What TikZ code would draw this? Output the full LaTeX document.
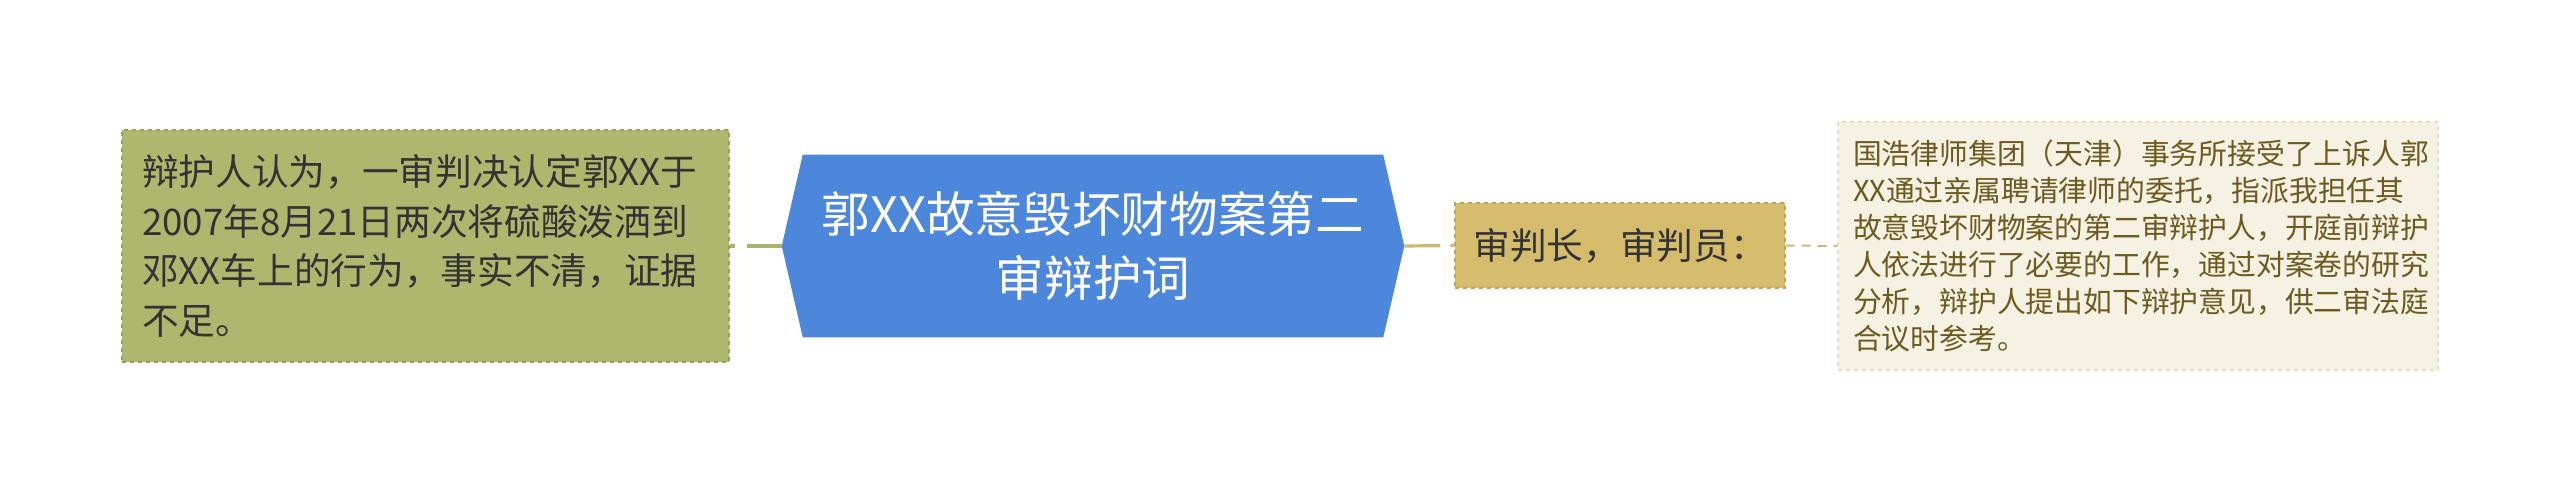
\documentclass[tikz,border=0pt]{standalone}
\usepackage{fontspec}
\newfontfamily\cjk{Noto Sans CJK SC}
\definecolor{titleblue}{RGB}{76,135,219}
\definecolor{argfill}{RGB}{174,183,110}
\definecolor{argdraw}{RGB}{150,160,88}
\definecolor{judgefill}{RGB}{212,188,108}
\definecolor{judgedraw}{RGB}{188,164,84}
\definecolor{introfill}{RGB}{245,242,228}
\definecolor{introdraw}{RGB}{230,224,198}
\definecolor{introtext}{RGB}{110,90,30}
\definecolor{darktext}{RGB}{51,51,51}
\definecolor{oliveline}{RGB}{170,178,110}
\definecolor{tanline}{RGB}{205,185,112}
\pgfdeclarelayer{background}
\pgfsetlayers{background,main}
\begin{document}
\begin{tikzpicture}
      [x=0.75pt,y=-0.75pt,inner sep=0pt,
       argument/.style={rectangle,draw=argdraw,fill=argfill,dashed,line width=1pt,
         minimum width=455.25pt,minimum height=174pt,text width=425.25pt,
         align=left,text=darktext,font=\cjk\fontsize{27.5pt}{37.2pt}\selectfont},
       title/.style={rectangle,minimum width=435pt,minimum height=136.5pt,
         align=center,text=white,font=\cjk\fontsize{36.5pt}{48pt}\selectfont},
       judges/.style={rectangle,draw=judgedraw,fill=judgefill,dashed,line width=1pt,
         minimum width=247.5pt,minimum height=63.75pt,
         text=darktext,font=\cjk\fontsize{27.5pt}{30pt}\selectfont},
       intro/.style={rectangle,draw=introdraw,fill=introfill,dashed,line width=1pt,
         minimum width=450pt,minimum height=186pt,text width=427.5pt,
         align=left,text=introtext,font=\cjk\fontsize{21.6pt}{27.75pt}\selectfont},
       leftlink/.style={draw=oliveline,line width=2.4pt,dash pattern=on 26.25pt off 9pt},
       rightlink/.style={draw=tanline,line width=2.4pt,dash pattern=on 27pt off 7.5pt},
       introlink/.style={draw=tanline,line width=1.5pt,dash pattern=on 6.75pt off 5.25pt}]
      \useasboundingbox (0,0) rectangle (2560,493);
      \node at (1093,246) (case) [title] {郭XX故意毁坏财物案第二\\审辩护词};
      \node at (425.5,246) (opinion) [argument] {辩护人认为，一审判决认定郭XX于\\2007年8月21日两次将硫酸泼洒到\\邓XX车上的行为，事实不清，证据\\不足。};
      \node at (1620,245.5) (judges) [judges] {审判长，审判员：};
      \node at (2138,246) (intro) [intro] {国浩律师集团（天津）事务所接受了上诉人郭\\XX通过亲属聘请律师的委托，指派我担任其\\故意毁坏财物案的第二审辩护人，开庭前辩护\\人依法进行了必要的工作，通过对案卷的研究\\分析，辩护人提出如下辩护意见，供二审法庭\\合议时参考。};
      \coordinate (tipW) at ([xshift=-15.75pt]case.west);
      \coordinate (tipE) at ([xshift=15.75pt]case.east);
      \begin{pgfonlayer}{background}
        \fill [titleblue] (tipW) -- (case.north west) -- (case.north east)
          -- (tipE) -- (case.south east) -- (case.south west) -- cycle;
      \end{pgfonlayer}
      \draw [leftlink] (tipW) to (opinion.east);
      \draw [rightlink] (tipE) to (judges.west);
      \draw [introlink] (judges.east) to (intro.west);
\end{tikzpicture}
\end{document}
